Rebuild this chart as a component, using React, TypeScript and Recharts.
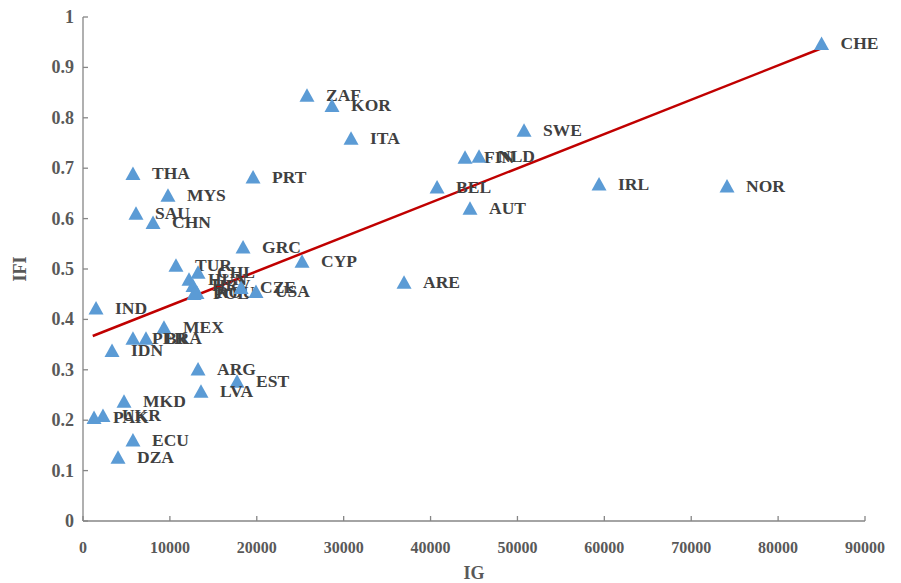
import React from 'react';
import { ScatterChart, Scatter, XAxis, YAxis } from 'recharts';

const countries = [
  'CHE', 'ZAF', 'KOR', 'ITA', 'SWE', 'FIN', 'NLD', 'THA', 'PRT', 'BEL',
  'IRL', 'NOR', 'MYS', 'AUT', 'SAU', 'CHN', 'GRC', 'CYP', 'TUR', 'HUN',
  'CHL', 'HRV', 'POL', 'ROU', 'CZE', 'USA', 'ARE', 'IND', 'MEX', 'BRA',
  'PER', 'IDN', 'ARG', 'EST', 'LVA', 'MKD', 'UKR', 'PAK', 'ECU', 'DZA',
];
const igValues = [
  85000, 25780, 28660, 30850, 50760, 43970, 45580, 5750, 19570, 40750,
  59390, 74120, 9780, 44540, 6100, 8060, 18420, 25210, 10700, 12200,
  13240, 12660, 12780, 13120, 18190, 19910, 36950, 1500, 9320, 7250,
  5750, 3340, 13240, 17730, 13580, 4720, 2300, 1270, 5750, 4030,
];
const ifiValues = [
  0.948, 0.845, 0.825, 0.760, 0.776, 0.722, 0.724, 0.690, 0.683, 0.663,
  0.669, 0.665, 0.647, 0.621, 0.611, 0.593, 0.544, 0.516, 0.508, 0.480,
  0.494, 0.468, 0.452, 0.454, 0.464, 0.456, 0.474, 0.423, 0.385, 0.363,
  0.363, 0.339, 0.302, 0.278, 0.258, 0.238, 0.210, 0.206, 0.161, 0.127,
];
const trendIG = [1120, 85000];
const trendIFI = [0.367, 0.938];
const xTicks = [0, 10000, 20000, 30000, 40000, 50000, 60000, 70000, 80000, 90000];
const yTicks = [0, 0.1, 0.2, 0.3, 0.4, 0.5, 0.6, 0.7, 0.8, 0.9, 1];

const points = countries.map((name, i) => ({ name, ig: igValues[i], ifi: ifiValues[i] }));
const trend = trendIG.map((ig, i) => ({ ig, ifi: trendIFI[i] }));

const FONT = '"Liberation Serif", "Times New Roman", serif';
const AXIS = '#868686';
const TICK_TEXT = '#595959';

const Tri = (props: any) => {
  const { cx, cy, payload } = props;
  const w = 15;
  const h = 13.5;
  const d = `M${cx},${cy - h / 2} L${cx + w / 2},${cy + h / 2} L${cx - w / 2},${cy + h / 2} Z`;
  return (
    <g>
      <path d={d} fill="#5B9BD5" />
      <text
        x={cx + 19}
        y={cy}
        dominantBaseline="central"
        fontFamily={FONT}
        fontWeight="bold"
        fontSize={17.5}
        fill="#404040"
      >
        {payload.name}
      </text>
    </g>
  );
};

const XTick = (p: any) => (
  <g>
    <line x1={p.x} x2={p.x} y1={p.y} y2={p.y - 5} stroke={AXIS} strokeWidth={1.3} />
    <text x={p.x} y={p.y + 32} textAnchor="middle" fontFamily={FONT} fontWeight="bold" fontSize={16} fill={TICK_TEXT}>
      {String(p.payload.value)}
    </text>
  </g>
);

const YTick = (p: any) => (
  <g>
    <line x1={p.x} x2={p.x + 5} y1={p.y} y2={p.y} stroke={AXIS} strokeWidth={1.3} />
    <text x={p.x - 9} y={p.y} dominantBaseline="central" textAnchor="end" fontFamily={FONT} fontWeight="bold" fontSize={18} fill={TICK_TEXT}>
      {String(p.payload.value)}
    </text>
  </g>
);

export default function App() {
  return (
    <div style={{ position: 'absolute', left: 0, top: 0, background: '#fff' }}>
      <ScatterChart width={901} height={583} margin={{ top: 17, right: 36, bottom: 0, left: 0 }}>
        <XAxis
          type="number"
          dataKey="ig"
          domain={[0, 90000]}
          ticks={xTicks}
          interval={0}
          height={62}
          tickSize={0}
          tickMargin={0}
          tickLine={false}
          axisLine={{ stroke: AXIS, strokeWidth: 1.3 }}
          tick={<XTick />}
          label={{ value: 'IG', position: 'insideBottom', offset: 4, style: { fontFamily: FONT, fontWeight: 'bold', fontSize: 18, fill: TICK_TEXT } }}
        />
        <YAxis
          type="number"
          dataKey="ifi"
          domain={[0, 1]}
          ticks={yTicks}
          interval={0}
          width={83}
          tickSize={0}
          tickMargin={0}
          tickLine={false}
          axisLine={{ stroke: AXIS, strokeWidth: 1.3 }}
          tick={<YTick />}
          label={{ value: 'IFI', angle: -90, position: 'insideLeft', offset: 20, style: { fontFamily: FONT, fontWeight: 'bold', fontSize: 18, fill: TICK_TEXT, textAnchor: 'middle' } }}
        />
        <Scatter
          data={trend}
          line={{ stroke: '#C00000', strokeWidth: 2.5 }}
          shape={() => <g />}
          isAnimationActive={false}
        />
        <Scatter data={points} shape={<Tri />} isAnimationActive={false} />
      </ScatterChart>
    </div>
  );
}
